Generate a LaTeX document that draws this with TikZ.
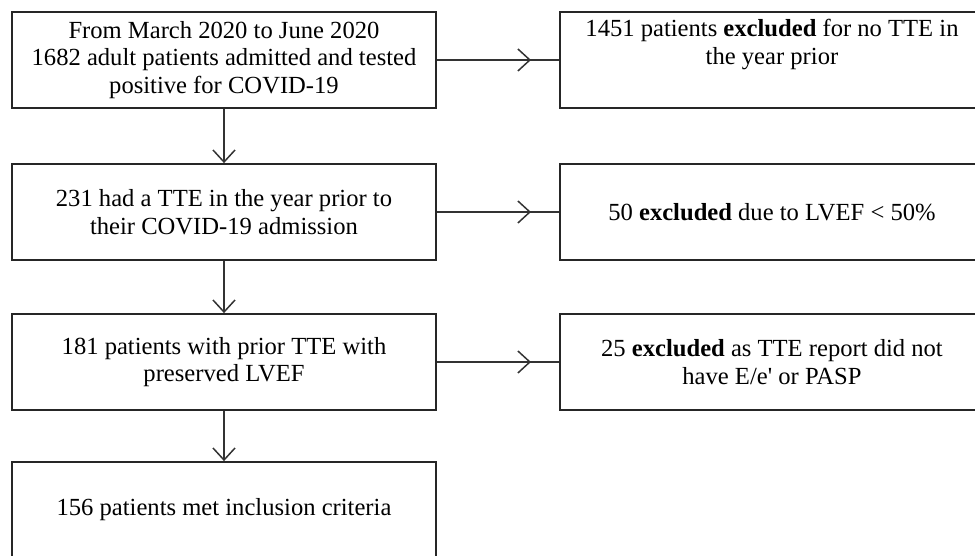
\documentclass[tikz,border=0pt]{standalone}
\usepackage{fontspec}
\setmainfont{Liberation Serif}
\usetikzlibrary{arrows.meta,decorations.markings}

\begin{document}
\begin{tikzpicture}[
		box/.style={draw=black!85, line width=0.35mm, rectangle, minimum width=8.48cm, minimum height=1.92cm,
			align=center, inner sep=0pt, font=\fontsize{14pt}{15.8pt}\selectfont},
		down/.style={draw=black!80, line width=0.3mm, -{Straight Barb[length=2.4mm, width=4.4mm]}},
		across/.style={draw=black!80, line width=0.3mm, postaction={decorate},
			decoration={markings, mark=at position 0.77 with {\arrow{Straight Barb[length=2.4mm, width=4.4mm]}}}}
	]
			%%%%% START %%%%%
			
			\clip (0, 0) rectangle (19.5, 11.12);
			
			\node[box] (cohort) at (4.48, 9.92) {From March 2020 to June 2020\\1682 adult patients admitted and tested\\positive for COVID-19};
			\node[box] (notte) at (15.44, 9.92) {1451 patients \textbf{excluded} for no TTE in\\the year prior\\\strut};
			
			\node[box] (hadtte) at (4.48, 6.88) {231 had a TTE in the year prior to\\their COVID-19 admission};
			\node[box] (lowef) at (15.44, 6.88) {50 \textbf{excluded} due to LVEF \textless{} 50\%};
			
			\node[box] (keptef) at (4.48, 3.88) {181 patients with prior TTE with\\preserved LVEF};
			\node[box] (nodata) at (15.44, 3.88) {25 \textbf{excluded} as TTE report did not\\have E/e\textquotesingle{} or PASP};
			
			\node[box] (final) at (4.48, 0.92) {156 patients met inclusion criteria};
			
			\draw[down] (cohort) -- (hadtte);
			\draw[down] (hadtte) -- (keptef);
			\draw[down] (keptef) -- (final);
			
			\draw[across] (cohort) -- (notte);
			\draw[across] (hadtte) -- (lowef);
			\draw[across] (keptef) -- (nodata);
			
			%%%%% END %%%%%
		\end{tikzpicture}
\end{document}
